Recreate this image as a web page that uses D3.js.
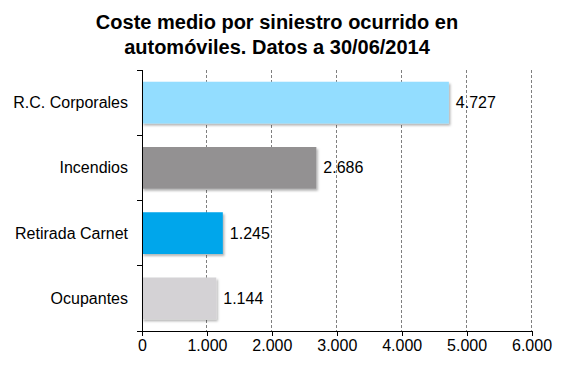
<!DOCTYPE html>
<html>
<head>
<meta charset="utf-8">
<script src="https://cdn.jsdelivr.net/npm/d3@7"></script>
<style>
  body { margin: 0; background: #fff; }
  text { font-family: "Liberation Sans", Arial, sans-serif; fill: #000; }
</style>
</head>
<body>
<div id="chart"></div>
<script>
// chart data
var categories = ["R.C. Corporales", "Incendios", "Retirada Carnet", "Ocupantes"];
var values = [4727, 2686, 1245, 1144];
var barColors = ["#93ddff", "#939192", "#00a6eb", "#d4d2d5"];
var xTicks = [0, 1000, 2000, 3000, 4000, 5000, 6000];
var titleLines = ["Coste medio por siniestro ocurrido en", "automóviles. Datos a 30/06/2014"];

var svgWidth = 567;
var svgHeight = 378;
var margin = { top: 70, right: 35.5, bottom: 47, left: 142 };
var width = svgWidth - margin.left - margin.right;
var height = svgHeight - margin.top - margin.bottom;

// spanish number format: dot as thousands separator
var fmt = function(v) {
  return d3.format(",")(v).replace(/,/g, ".");
};

var svg = d3.select("#chart")
  .append("svg")
  .attr("width", svgWidth)
  .attr("height", svgHeight);

// soft shadow under bars
var defs = svg.append("defs");
var shadow = defs.append("filter")
  .attr("id", "shadow")
  .attr("x", "-5%").attr("y", "-10%")
  .attr("width", "115%").attr("height", "130%");
shadow.append("feDropShadow")
  .attr("dx", 1.5).attr("dy", 2)
  .attr("stdDeviation", 1.2)
  .attr("flood-color", "#000")
  .attr("flood-opacity", 0.3);

// title
svg.append("g")
  .selectAll("text")
  .data(titleLines)
  .enter()
  .append("text")
  .attr("x", 277)
  .attr("y", (d, i) => 29 + i * 25)
  .attr("text-anchor", "middle")
  .style("font-size", "20px")
  .style("font-weight", "bold")
  .text(d => d);

var chartGroup = svg.append("g")
  .attr("transform", `translate(${margin.left}, ${margin.top})`);

var xScale = d3.scaleLinear()
  .domain([0, 6000])
  .range([0, width]);

var yScale = d3.scaleBand()
  .domain(categories)
  .range([0, height])
  .paddingInner(0.36)
  .paddingOuter(0.18);

// dashed vertical gridlines
chartGroup.append("g")
  .selectAll("line")
  .data(xTicks.slice(1))
  .enter()
  .append("line")
  .attr("x1", d => xScale(d))
  .attr("x2", d => xScale(d))
  .attr("y1", 0)
  .attr("y2", height)
  .attr("stroke", "#7f7f7f")
  .attr("stroke-width", 1)
  .attr("stroke-dasharray", "3,2")
  .attr("shape-rendering", "crispEdges");

// bars
chartGroup.append("g")
  .selectAll("rect")
  .data(values)
  .enter()
  .append("rect")
  .attr("x", 0)
  .attr("y", (d, i) => yScale(categories[i]))
  .attr("width", d => xScale(d))
  .attr("height", yScale.bandwidth())
  .attr("fill", (d, i) => barColors[i])
  .attr("filter", "url(#shadow)");

// value labels
chartGroup.append("g")
  .selectAll("text")
  .data(values)
  .enter()
  .append("text")
  .attr("x", d => xScale(d) + 7)
  .attr("y", (d, i) => yScale(categories[i]) + yScale.bandwidth() / 2)
  .attr("dy", "0.35em")
  .style("font-size", "16px")
  .text(d => fmt(d));

// x axis
var bottomAxis = d3.axisBottom(xScale)
  .tickValues(xTicks)
  .tickSize(5)
  .tickPadding(4)
  .tickFormat(fmt);

var xAxis = chartGroup.append("g")
  .attr("transform", `translate(0, ${height})`)
  .call(bottomAxis);
xAxis.select(".domain").attr("stroke", "#000").attr("shape-rendering", "crispEdges");
xAxis.selectAll(".tick line").attr("stroke", "#000").attr("shape-rendering", "crispEdges");
xAxis.selectAll("text")
  .style("font-size", "16px")
  .style("font-family", "'Liberation Sans', Arial, sans-serif")
  .attr("fill", "#000");

// y axis: ticks at band boundaries, labels centered in bands
var yAxis = chartGroup.append("g");
yAxis.append("line")
  .attr("x1", 0).attr("x2", 0)
  .attr("y1", 0).attr("y2", height)
  .attr("stroke", "#000")
  .attr("shape-rendering", "crispEdges");

var step = yScale.step();
yAxis.selectAll(".ytick")
  .data(d3.range(categories.length + 1))
  .enter()
  .append("line")
  .attr("class", "ytick")
  .attr("x1", -5).attr("x2", 0)
  .attr("y1", d => d * step)
  .attr("y2", d => d * step)
  .attr("stroke", "#000")
  .attr("shape-rendering", "crispEdges");

yAxis.selectAll("text")
  .data(categories)
  .enter()
  .append("text")
  .attr("x", -14)
  .attr("y", d => yScale(d) + yScale.bandwidth() / 2)
  .attr("dy", "0.35em")
  .attr("text-anchor", "end")
  .style("font-size", "16px")
  .text(d => d);
</script>
</body>
</html>
